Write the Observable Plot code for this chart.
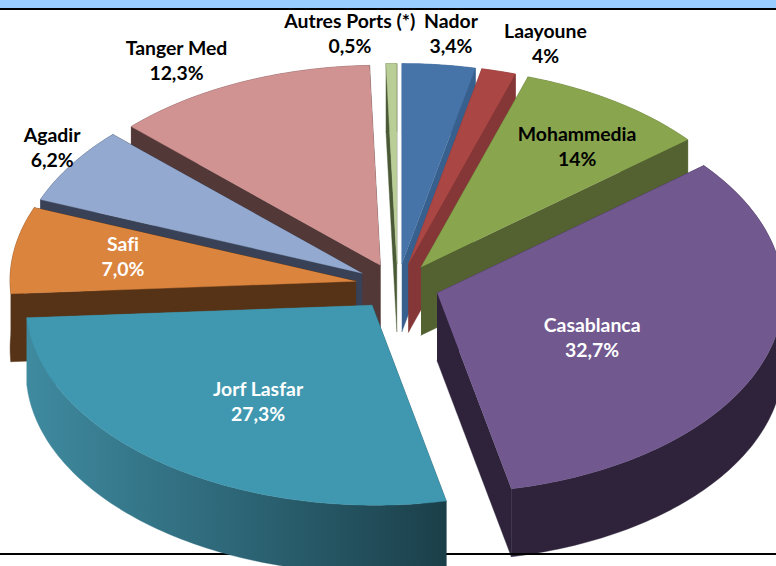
<!DOCTYPE html>
<html>
<head>
<meta charset="utf-8">
<script src="https://cdn.jsdelivr.net/npm/d3@7"></script>
<script src="https://cdn.jsdelivr.net/npm/@observablehq/plot@0.6"></script>
<style>
html,body{margin:0;padding:0;background:#fff;overflow:hidden}
svg{display:block}
svg text{font-variant-ligatures:none}
</style>
</head>
<body>
<div id="chart"></div>
<script>
// Data: slice names, drawn shares and printed labels (the printed "4%" and "14%" differ from the drawn angles)
const ports = ["Nador","Laayoune","Mohammedia","Casablanca","Jorf Lasfar","Safi","Agadir","Tanger Med","Autres Ports (*)"];
const shares = [3.4,1.6,9,32.7,27.3,7,6.2,12.3,0.5];
const printed = ["3,4%","4%","14%","32,7%","27,3%","7,0%","6,2%","12,3%","0,5%"];

// Styles
const topColors = ["#4674a8","#aa4644","#89a54e","#71588f","#4098b0","#db843d","#93a9cf","#d19392","#b9cd96"];
const sideColors = ["#38608f","#843736","#536230","#2e233a","url(#jorfSide)","#563317","#384155","#533838","#4b5a36"];
const labelColors = ["#000","#000","#000","#fff","#fff","#fff","#000","#000","#000"];
// Label offset from each slice's own apex
const labelOffsets = [[49,-231],[137,-222],[156,-122],[155,43],[-114,95],[-233,-26],[-310,-127],[-204,-206],[-47,-231]];
// Paint order, back to front
const backOrder = [8,0,1,7,2,6,5,3];
const frontOrder = [4];

// Pie projection
const W = 776, H = 566;
const cx = 397, cy = 284, rx = 346, ry = 200, depth = 68, frontShear = 0.015;
const explodeX = 42, explodeBack = 21, explodeFront = 26;

const arcs = d3.pie().sort(null).value(d => d)(shares);
const slices = arcs.map((a, i) => {
  const mid = (a.startAngle + a.endAngle) / 2;
  const c = Math.cos(mid);
  return {
    i, a0: a.startAngle, a1: a.endAngle,
    ax: cx + explodeX * Math.sin(mid),
    ay: cy - (c > 0 ? explodeBack : explodeFront) * c
  };
});
function rim(s, t, drop) {
  return {
    x: s.ax + rx * Math.sin(t) + frontShear * ry * Math.max(0, -Math.cos(t)),
    y: s.ay - ry * Math.cos(t) + drop
  };
}
function facesOf(s) {
  const n = Math.max(2, Math.ceil((s.a1 - s.a0) * 180 / Math.PI));
  const arc = d3.range(n + 1).map(k => s.a0 + (s.a1 - s.a0) * k / n);
  const apex = drop => ({x: s.ax, y: s.ay + drop});
  const out = [];
  const push = (name, fill, pts) => pts.forEach(p => out.push({...p, face: s.i + name, fill}));
  const side = sideColors[s.i], top = topColors[s.i];
  push("w0", side.startsWith("url") ? "#1c3f4a" : side, [apex(0), rim(s,s.a0,0), rim(s,s.a0,depth), apex(depth)]);
  push("w1", side.startsWith("url") ? "#3f8a9f" : side, [apex(0), rim(s,s.a1,0), rim(s,s.a1,depth), apex(depth)]);
  push("o", side, [...arc.map(t => rim(s,t,0)), ...arc.slice().reverse().map(t => rim(s,t,depth))]);
  push("t", top, [apex(0), ...arc.map(t => rim(s,t,0))]);
  return out;
}
const backFaces = backOrder.flatMap(i => facesOf(slices[i]));
const frontFaces = frontOrder.flatMap(i => facesOf(slices[i]));

const jorfLine = d3.range(0, 101).map(k => {
  const s = slices[4];
  return rim(s, s.a0 + (s.a1 - s.a0) * k / 100, 0).x;
});
const gradient = (index, scales) => {
  const defs = d3.create("svg:defs");
  const g = defs.append("linearGradient").attr("id","jorfSide")
    .attr("gradientUnits","userSpaceOnUse")
    .attr("x1",scales.x(d3.min(jorfLine))).attr("x2",scales.x(d3.max(jorfLine)))
    .attr("y1",0).attr("y2",0);
  g.append("stop").attr("offset","0").attr("stop-color","#3f8a9f");
  g.append("stop").attr("offset","0.5").attr("stop-color","#2d6677");
  g.append("stop").attr("offset","1").attr("stop-color","#1b3f49");
  return defs.node();
};
const faceOpts = {x:"x", y:"y", z:"face", fill:"fill", curve:"linear", strokeWidth:0.4, stroke:"fill"};

const labels = slices.map((s, i) => ({
  x: s.ax + labelOffsets[i][0],
  y: s.ay + labelOffsets[i][1],
  text: ports[i] + "\n" + printed[i],
  color: labelColors[i]
}));

const chart = Plot.plot({
  width: W, height: H,
  margin: 0,
  x: {domain:[0,W], range:[0,W], axis:null},
  y: {domain:[0,H], range:[0,H], axis:null},
  color: {type:"identity"},
  style: {background:"#fff"},
  marks: [
    gradient,
    Plot.line(backFaces, faceOpts),
    Plot.ruleY([553.5], {stroke:"#000", strokeWidth:2}),
    Plot.line(frontFaces, faceOpts),
    Plot.rect([0], {x1:() => 0, x2:() => W, y1:() => 0, y2:() => 8, fill:"#99ccff"}),
    Plot.ruleY([8.5], {stroke:"#000", strokeWidth:2}),
    Plot.text(labels, {
      x:"x", y:"y", text:"text", fill:"color",
      fontFamily:"Lato, 'Open Sans', sans-serif", fontWeight:700, fontSize:19.4,
      lineHeight:1.31, lineAnchor:"middle", textAnchor:"middle"
    })
  ]
});
document.getElementById("chart").appendChild(chart);
</script>
</body>
</html>
